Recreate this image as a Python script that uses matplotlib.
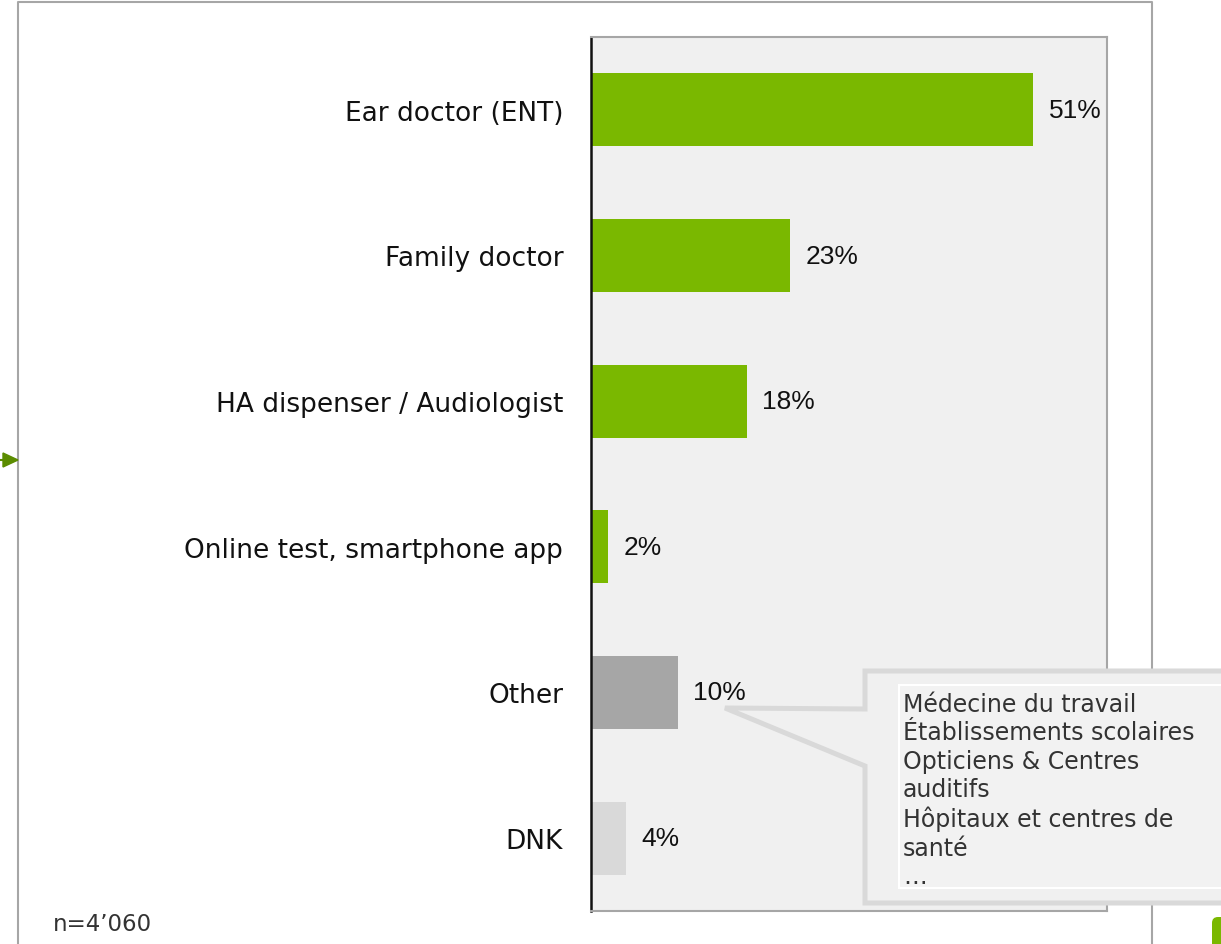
import matplotlib.pyplot as plt
from matplotlib.patches import Polygon, Rectangle, FancyBboxPatch

# data
categories = ["Ear doctor (ENT)", "Family doctor", "HA dispenser / Audiologist",
              "Online test, smartphone app", "Other", "DNK"]
shares = [51, 23, 18, 2, 10, 4]
bar_colors = ["#7ab800", "#7ab800", "#7ab800", "#7ab800", "#a6a6a6", "#d9d9d9"]
other_answers = ["Médecine du travail", "Établissements scolaires", "Opticiens & Centres",
                 "auditifs", "Hôpitaux et centres de", "santé", "…"]
sample_note = "n=4’060"

W, H = 1221, 945
fig = plt.figure(figsize=(W / 100, H / 100), dpi=100)

# main bar chart, placed in pixel terms
left, right, top, bottom = 591, 1107, 38, 912
ax = fig.add_axes([left / W, 1 - bottom / H, (right - left) / W, (bottom - top) / H])
ax.set_facecolor("#f0f0f0")
pos = list(range(len(categories)))
ax.barh(pos, shares, height=0.5, color=bar_colors, zorder=2)
ax.set_xlim(0, 59.5)
ax.set_ylim(len(categories) - 0.5, -0.5)
ax.set_yticks(pos)
ax.set_yticklabels(categories, fontsize=19, family="DejaVu Sans", color="#111111")
ax.tick_params(axis="y", length=0, pad=20)
ax.set_xticks([])
for side in ("top", "right", "bottom"):
    ax.spines[side].set_color("#a6a6a6")
    ax.spines[side].set_linewidth(1.5)
ax.spines["left"].set_color("#111111")
ax.spines["left"].set_linewidth(1.8)

for i, v in enumerate(shares):
    ax.annotate(f"{v}%", xy=(v, i), xytext=(11, 0), textcoords="offset points",
                va="center", ha="left", fontsize=19, family="Liberation Sans", color="#111111")

# overlay in pixel coordinates for frame, callout and decorations
ov = fig.add_axes([0, 0, 1, 1], zorder=5)
ov.set_xlim(0, W)
ov.set_ylim(H, 0)
ov.axis("off")
ov.patch.set_visible(False)

ov.plot([18, 18, 1152, 1152], [960, 3, 3, 960], color="#a6a6a6", lw=1.5, zorder=1)

callout = Polygon([(1240, 672), (865, 672), (865, 710), (725, 709), (865, 767),
                   (865, 904), (1240, 904)], closed=True, fc="#f0f0f0", ec="#d9d9d9",
                  lw=3.6, joinstyle="miter", zorder=2)
ov.add_patch(callout)
ov.add_patch(Rectangle((899, 686), 340, 203, fc="#f2f2f2", ec="white", lw=1.5, zorder=3))
ov.text(903, 693, "\n".join(other_answers), va="top", ha="left", fontsize=17,
        family="DejaVu Sans", color="#333333", linespacing=1.23, zorder=4)

# small decorations
ov.fill([3, 18, 3], [454, 461, 468], color="#5b8c00", zorder=2)
ov.plot([0, 4], [461, 461], color="#5b8c00", lw=1.5, zorder=2)
ov.add_patch(FancyBboxPatch((1212, 918), 30, 40, boxstyle="round,pad=0,rounding_size=6",
                            fc="#7ab800", ec="none", zorder=2))

fig.text(53 / W, 1 - 925 / H, sample_note, fontsize=16.5, family="DejaVu Sans",
         color="#333333", va="center", ha="left")

fig.savefig("out.png", dpi=100)
